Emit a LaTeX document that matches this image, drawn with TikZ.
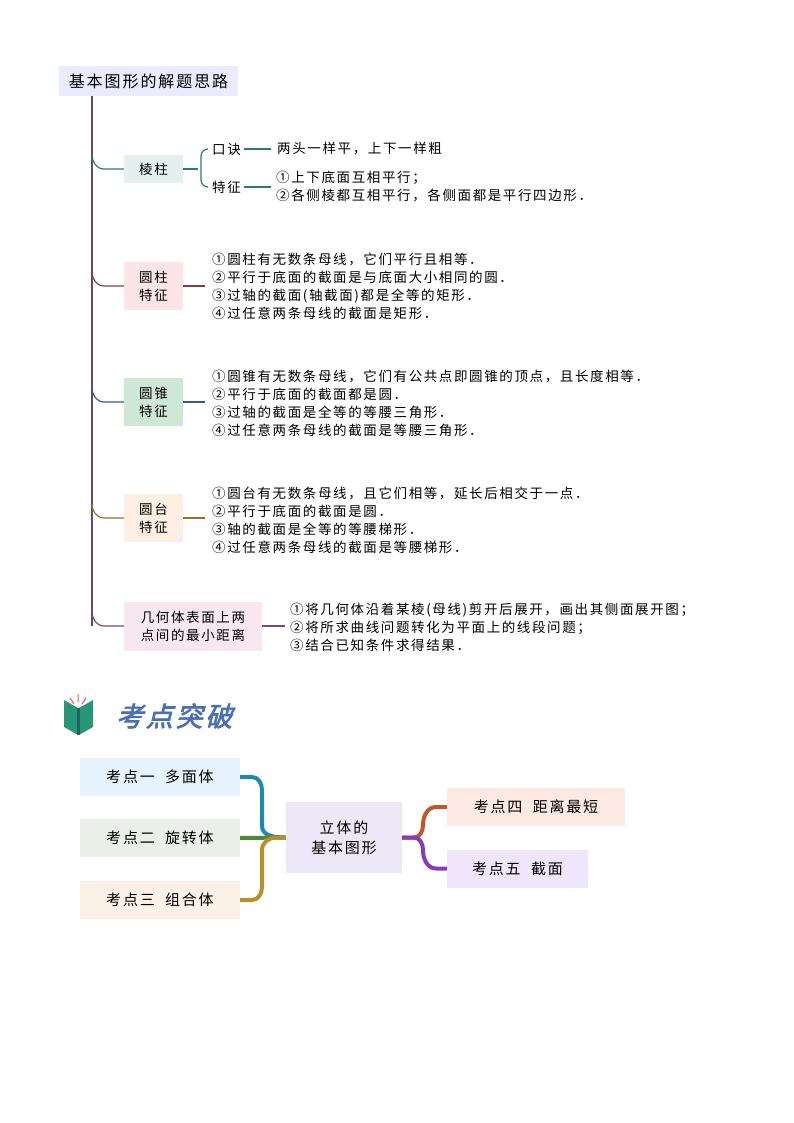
\documentclass[tikz,border=0pt]{standalone}
\usepackage{fontspec}
\setmainfont[LetterSpace=12]{Noto Sans CJK SC}
\newfontfamily\titlefont[FakeSlant=0.25,FakeBold=2.5,LetterSpace=10]{Noto Sans CJK SC}
\begin{document}
\begin{tikzpicture}[x=1pt,y=-1pt,
  lbl/.style={font=\fontsize{13.5}{15}\selectfont,inner sep=0pt},
  item/.style={font=\fontsize{13.5}{18}\selectfont,align=left,anchor=west,inner sep=0pt},
  cbox/.style={minimum height=28pt,inner sep=0pt,font=\fontsize{13.5}{18}\selectfont,align=center},
  kbox/.style={minimum height=38pt,inner sep=0pt,font=\fontsize{15}{20}\selectfont,align=center},
  br/.style={line width=1.2pt},
  kl/.style={line width=4pt}]
\useasboundingbox (0,0) rectangle (794,1123);
% header
\node[fill=blue!8,minimum width=179pt,minimum height=30pt,inner sep=0pt,font=\fontsize{16}{18}\selectfont] (hd) at (148.5,81) {基本图形的解题思路};
\coordinate (t0) at (92,96);
\coordinate (t1) at (92,626);
\draw[br,color={rgb,255:red,107;green,74;blue,94}] (t0) -- (t1);
% boxes
\node[cbox,fill={rgb,255:red,227;green,241;blue,238},minimum width=59pt] (b1) at (153.5,169) {棱柱};
\node[cbox,fill={rgb,255:red,251;green,229;blue,230},minimum width=59pt,minimum height=48pt] (b2) at (153.5,286) {圆柱\\特征};
\node[cbox,fill={rgb,255:red,207;green,231;blue,213},minimum width=59pt,minimum height=48pt] (b3) at (153.5,402) {圆锥\\特征};
\node[cbox,fill={rgb,255:red,253;green,240;blue,227},minimum width=59pt,minimum height=48pt] (b4) at (153.5,518) {圆台\\特征};
\node[cbox,fill={rgb,255:red,246;green,232;blue,238},minimum width=138pt,minimum height=49pt] (b5) at (193,626) {几何体表面上两\\点间的最小距离};
\foreach \b/\y/\c in {b1/169/{rgb,255:red,46;green,123;blue,112},b2/286/{rgb,255:red,139;green,58;blue,58},b3/402/{rgb,255:red,47;green,95;blue,122},b4/518/{rgb,255:red,160;green,112;blue,32},b5/626/{rgb,255:red,122;green,74;blue,106}}
  \draw[br,color=\c] (92,\y-14) to[out=-90,in=180] (104,\y) -- (\b.west);
% prism
\node[lbl,anchor=west] (k1) at (212,149) {口诀};
\node[lbl,anchor=west] (k2) at (212,187) {特征};
\node[item] (k1t) at (277,149) {两头一样平，上下一样粗};
\node[item] (k2t) at (276,187) {①上下底面互相平行；\\②各侧棱都互相平行，各侧面都是平行四边形．};
\begin{scope}[br,color={rgb,255:red,46;green,123;blue,112}]
\draw (b1.east) -- (198,169);
\draw (208,149) to[out=180,in=90] (201,156) -- (201,180) to[out=-90,in=180] (208,187);
\draw (k1.east)++(3,0) -- ([xshift=-6pt]k1t.west);
\draw (k2.east)++(3,0) -- ([xshift=-5pt]k2t.west);
\end{scope}
% others
\node[item] (i2) at (212,286) {①圆柱有无数条母线，它们平行且相等．\\②平行于底面的截面是与底面大小相同的圆．\\③过轴的截面(轴截面)都是全等的矩形．\\④过任意两条母线的截面是矩形．};
\node[item] (i3) at (212,403) {①圆锥有无数条母线，它们有公共点即圆锥的顶点，且长度相等．\\②平行于底面的截面都是圆．\\③过轴的截面是全等的等腰三角形．\\④过任意两条母线的截面是等腰三角形．};
\node[item] (i4) at (212,520) {①圆台有无数条母线，且它们相等，延长后相交于一点．\\②平行于底面的截面是圆．\\③轴的截面是全等的等腰梯形．\\④过任意两条母线的截面是等腰梯形．};
\node[item] (i5) at (290,627) {①将几何体沿着某棱(母线)剪开后展开，画出其侧面展开图；\\②将所求曲线问题转化为平面上的线段问题；\\③结合已知条件求得结果．};
\draw[br,color={rgb,255:red,139;green,58;blue,58}] (b2.east) -- ([xshift=-7pt]i2.west);
\draw[br,color={rgb,255:red,47;green,95;blue,122}] (b3.east) -- ([xshift=-7pt]i3.west |- b3.east);
\draw[br,color={rgb,255:red,160;green,112;blue,32}] (b4.east) -- ([xshift=-7pt]i4.west |- b4.east);
\draw[br,color={rgb,255:red,122;green,74;blue,106}] (b5.east) -- ([xshift=-5pt]i5.west |- b5.east);
% icon
\fill[color={rgb,255:red,40;green,150;blue,120}] (64,700) -- (78,708) -- (78,735) -- (64,727) -- cycle;
\fill[color={rgb,255:red,40;green,150;blue,120}] (93,700) -- (79,708) -- (79,735) -- (93,727) -- cycle;
\fill[color={rgb,255:red,30;green,100;blue,90}] (77,708) rectangle (80,735);
\draw[color=red!70,line width=1pt] (70,698) -- (74,704) (78,694) -- (78,702) (86,698) -- (82,704);
\node[anchor=west,inner sep=0pt,text={rgb,255:red,74;green,111;blue,181},font=\titlefont\fontsize{27}{29}\selectfont] (ti) at (116,716) {考点突破};
% bottom mindmap
\node[kbox,fill={rgb,255:red,230;green,242;blue,252},minimum width=160pt] (p1) at (160,777) {考点一\ \ 多面体};
\node[kbox,fill={rgb,255:red,234;green,240;blue,232},minimum width=160pt] (p2) at (160,838) {考点二\ \ 旋转体};
\node[kbox,fill={rgb,255:red,252;green,241;blue,230},minimum width=160pt] (p3) at (160,900) {考点三\ \ 组合体};
\node[kbox,fill={rgb,255:red,236;green,232;blue,248},minimum width=116pt,minimum height=71pt] (c) at (344,837.5) {立体的\\基本图形};
\node[kbox,fill={rgb,255:red,253;green,233;blue,227},minimum width=178pt] (p4) at (536,807) {考点四\ \ 距离最短};
\node[kbox,fill={rgb,255:red,239;green,230;blue,251},minimum width=141pt] (p5) at (517.5,868.5) {考点五\ \ 截面};
\draw[kl,color={rgb,255:red,26;green,138;blue,181}] (p1.east) -- (252,777) to[out=0,in=90] (262,790) -- (262,826) to[out=-90,in=180] (c.west);
\draw[kl,color={rgb,255:red,74;green,138;blue,58}] (p2.east) -- (c.west);
\draw[kl,color={rgb,255:red,184;green,144;blue,42}] (p3.east) -- (252,900) to[out=0,in=-90] (262,887) -- (262,850) to[out=90,in=180] (276,837.5) -- (c.west);
\draw[kl,color={rgb,255:red,192;green,88;blue,42}] (c.east) -- (414,837.5) to[out=0,in=-90] (423,825) to[out=90,in=180] (436,807) -- (p4.west);
\draw[kl,color={rgb,255:red,138;green,58;blue,181}] (c.east) -- (414,837.5) to[out=0,in=90] (423,850) to[out=-90,in=180] (436,868.5) -- (p5.west);
\end{tikzpicture}
\end{document}
